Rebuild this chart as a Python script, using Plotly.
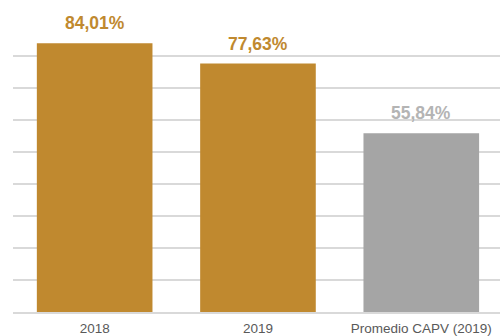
import plotly.graph_objects as go

categories = ["2018", "2019", "Promedio CAPV (2019)"]
values = [84.01, 77.63, 55.84]
bar_colors = ["#C0892F", "#C0892F", "#A5A5A5"]
label_colors = ["#C0892F", "#C0892F", "#B4B4B4"]
value_labels = ["84,01%", "77,63%", "55,84%"]

fig = go.Figure()
fig.add_trace(go.Bar(
    x=list(range(len(categories))),
    y=values,
    marker=dict(color=bar_colors, line=dict(width=0)),
    width=0.708,
    hoverinfo="skip",
))

for i, (v, lab, col) in enumerate(zip(values, value_labels, label_colors)):
    fig.add_annotation(
        x=i, y=v, text=f"<b>{lab}</b>", showarrow=False,
        yanchor="middle", yshift=20,
        font=dict(family="Liberation Sans, Arial, sans-serif", size=17.5, color=col),
    )

fig.update_layout(
    width=500, height=336,
    margin=dict(l=13, r=0, t=24, b=22),
    paper_bgcolor="white", plot_bgcolor="white",
    showlegend=False,
    font=dict(family="Liberation Sans, Arial, sans-serif"),
)
fig.update_xaxes(
    range=[-0.5, 2.482],
    tickmode="array",
    tickvals=list(range(len(categories))),
    ticktext=categories,
    tickfont=dict(size=13.5, color="#595959"),
    ticklabelstandoff=3,
    showgrid=False, zeroline=False,
    showline=True, linecolor="#D9D9D9", linewidth=1.5,
    ticks="",
)
fig.update_yaxes(
    range=[0, 90], dtick=10,
    showticklabels=False,
    showgrid=True, gridcolor="#D9D9D9", gridwidth=1.5,
    zeroline=False,
)

fig.write_html("out.html")
